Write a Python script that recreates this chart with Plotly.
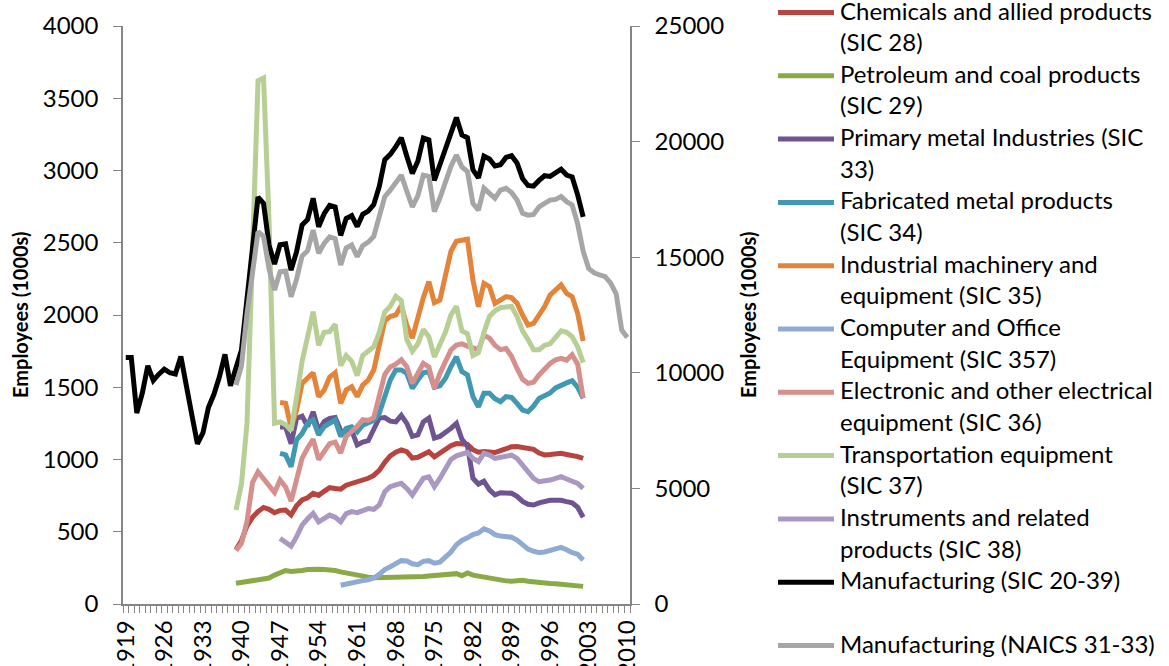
import plotly.graph_objects as go

# ---------------- data (thousands of employees) ----------------
years_sic = list(range(1919, 2003))
manuf_sic = [10659, 10658, 8257, 9120, 10300, 9671, 9939, 10156, 10001, 9947,
             10702, 9562, 8170, 6931, 7397, 8501, 9069, 9827, 10794, 9440,
             10278, 10985, 13192, 15280, 17602, 17328, 15524, 14703, 15545, 15582,
             14441, 15241, 16393, 16632, 17549, 16314, 16882, 17243, 17174, 15945,
             16675, 16796, 16326, 16853, 16995, 17274, 18062, 19214, 19447, 19781,
             20167, 19367, 18623, 19151, 20154, 20077, 18323, 18997, 19682, 20505,
             21040, 20285, 20170, 18780, 18432, 19372, 19248, 18947, 18999, 19314,
             19391, 19076, 18406, 18104, 18075, 18321, 18524, 18495, 18675, 18805,
             18552, 18469, 17698, 16747]

years_naics = list(range(1939, 2011))
manuf_naics = [9470, 10300, 12550, 14150, 16100, 15900, 14500, 13580, 14370, 14400,
               13290, 14050, 15050, 15280, 16175, 15170, 15600, 15880, 15800, 14660,
               15400, 15530, 15020, 15500, 15650, 15900, 16700, 17620, 17900, 18200,
               18550, 17850, 17180, 17650, 18550, 18500, 16970, 17550, 18200, 18930,
               19420, 18900, 18700, 17330, 17040, 17980, 17760, 17550, 17900, 17980,
               17800, 17470, 16900, 16820, 16850, 17180, 17330, 17470, 17500, 17620,
               17400, 17260, 16440, 15260, 14510, 14320, 14230, 14160, 13880, 13410,
               11850, 11530]

years_a = list(range(1939, 2003))
chem = [376, 440, 540, 600, 640, 668, 655, 632, 648, 650,
        616, 680, 720, 735, 766, 752, 780, 805, 800, 795,
        822, 833, 840, 860, 870, 890, 925, 980, 1025, 1050,
        1066, 1054, 1010, 1015, 1035, 1054, 1019, 1045, 1070, 1095,
        1110, 1110, 1105, 1068, 1050, 1055, 1052, 1048, 1062, 1078,
        1088, 1090, 1082, 1077, 1070, 1045, 1032, 1035, 1040, 1043,
        1035, 1030, 1020, 1008]
petro = [143, 150, 158, 165, 170, 172, 180, 200, 212, 232,
         225, 225, 232, 238, 242, 240, 238, 236, 232, 222,
         214, 205, 198, 192, 186, 182, 182, 184, 186, 184,
         182, 186, 188, 190, 190, 194, 196, 200, 204, 208,
         210, 196, 215, 200, 192, 186, 178, 168, 162, 160,
         158, 162, 164, 158, 152, 150, 146, 142, 140, 137,
         130, 127, 125, 122]
elec = [370, 420, 570, 840, 915, 870, 830, 772, 858, 810,
        712, 875, 1010, 1080, 1140, 1000, 1060, 1110, 1120, 1045,
        1160, 1190, 1230, 1275, 1270, 1290, 1430, 1590, 1640, 1660,
        1690, 1642, 1527, 1600, 1665, 1640, 1492, 1596, 1677, 1758,
        1792, 1800, 1785, 1770, 1760, 1860, 1840, 1790, 1760, 1768,
        1715, 1630, 1555, 1527, 1535, 1585, 1630, 1665, 1690, 1700,
        1688, 1725, 1660, 1425]
transp = [650, 830, 1250, 2450, 3620, 3640, 2650, 1250, 1260, 1240,
          1200, 1430, 1680, 1850, 2023, 1790, 1880, 1885, 1935, 1650,
          1720, 1680, 1580, 1720, 1750, 1780, 1880, 2020, 2060, 2130,
          2100, 1830, 1750, 1800, 1900, 1850, 1710, 1800, 1880, 2000,
          2060, 1890, 1870, 1720, 1740, 1880, 1990, 2030, 2050, 2055,
          2060, 1990, 1890, 1830, 1760, 1760, 1790, 1800, 1850, 1890,
          1880, 1850, 1780, 1670]

years_b = list(range(1947, 2003))
prim = [1225, 1225, 1110, 1285, 1300, 1230, 1330, 1200, 1262, 1285,
        1290, 1200, 1190, 1200, 1100, 1120, 1130, 1215, 1287, 1290,
        1265, 1260, 1305, 1250, 1160, 1170, 1260, 1287, 1148, 1160,
        1185, 1215, 1250, 1140, 1095, 870, 830, 850, 790, 755,
        770, 770, 766, 745, 710, 690, 685, 700, 712, 718,
        718, 718, 708, 700, 670, 600]
fab = [1042, 1032, 950, 1135, 1180, 1250, 1273, 1170, 1227, 1250,
       1273, 1160, 1215, 1227, 1192, 1238, 1250, 1270, 1319, 1435,
       1550, 1619, 1620, 1596, 1492, 1550, 1600, 1608, 1500, 1510,
       1561, 1642, 1711, 1608, 1585, 1435, 1365, 1458, 1458, 1420,
       1400, 1435, 1430, 1388, 1342, 1331, 1370, 1423, 1445, 1460,
       1495, 1515, 1530, 1545, 1500, 1423]
mach = [1395, 1390, 1220, 1342, 1527, 1561, 1600, 1435, 1480, 1570,
        1600, 1388, 1481, 1504, 1435, 1515, 1550, 1619, 1780, 1960,
        1990, 2000, 2065, 1930, 1840, 1990, 2120, 2231, 2085, 2104,
        2260, 2440, 2510, 2519, 2525, 2242, 2058, 2219, 2196, 2080,
        2104, 2127, 2120, 2081, 2000, 1931, 1942, 2000, 2058, 2138,
        2170, 2208, 2150, 2127, 2012, 1820]
instr = [454, 432, 400, 466, 546, 590, 627, 569, 590, 615,
         600, 569, 625, 639, 632, 650, 660, 655, 685, 777,
         812, 825, 835, 800, 754, 812, 870, 880, 812, 869,
         938, 1000, 1025, 1035, 1050, 1008, 985, 1043, 1031, 1008,
         1015, 1020, 1030, 1008, 962, 915, 870, 846, 850, 858,
         870, 881, 865, 850, 835, 800]

years_c = list(range(1958, 2003))
comp = [130, 140, 150, 155, 162, 168, 180, 205, 238, 258,
        275, 300, 298, 278, 272, 295, 300, 282, 290, 320,
        360, 410, 440, 458, 480, 492, 520, 505, 480, 470,
        466, 462, 443, 410, 380, 365, 356, 360, 372, 385,
        392, 375, 355, 345, 305]

tick_years = list(range(1919, 2011, 7))

# legend labels, as wrapped in the reference
legend_lines = [
    ["Chemicals and allied products", "(SIC 28)"],
    ["Petroleum and coal products", "(SIC 29)"],
    ["Primary metal Industries (SIC", "33)"],
    ["Fabricated metal products", "(SIC 34)"],
    ["Industrial machinery and", "equipment (SIC 35)"],
    ["Computer and Office", "Equipment (SIC 357)"],
    ["Electronic and other electrical", "equipment (SIC 36)"],
    ["Transportation equipment", "(SIC 37)"],
    ["Instruments and related", "products (SIC 38)"],
    ["Manufacturing (SIC 20-39)"],
    ["Manufacturing (NAICS 31-33)"],
]

# ---------------- figure ----------------
FONT = "Lato, 'Open Sans', sans-serif"
AXC = "#868686"
W, H = 1169, 666
L, R, T, B = 123, 539, 26, 62
PW, PH = W - L - R, H - T - B
LW = 5

series = [
    (years_a, chem, "#B8443F", "y"),
    (years_a, petro, "#8AAA48", "y"),
    (years_b, prim, "#6E5592", "y"),
    (years_b, fab, "#4098B2", "y"),
    (years_b, mach, "#E3843A", "y"),
    (years_c, comp, "#8FAAD3", "y"),
    (years_a, elec, "#D58F8D", "y"),
    (years_a, transp, "#B7CF95", "y"),
    (years_b, instr, "#A898C2", "y"),
    (years_sic, manuf_sic, "#000000", "y2"),
    (years_naics, manuf_naics, "#A6A6A6", "y2"),
]

fig = go.Figure()
for lines, (xs, ys, color, yax) in zip(legend_lines, series):
    fig.add_trace(go.Scatter(
        x=xs, y=ys, name=" ".join(lines), mode="lines", yaxis=yax,
        line=dict(color=color, width=LW), hoverinfo="skip",
        showlegend=False,
    ))


def px_x(px):
    return (px - L) / PW


def px_y(py):
    return (H - B - py) / PH


annotations = [
    dict(text="<b>Employees (1000s)</b>", xref="paper", yref="paper",
         x=px_x(20), y=0.5, textangle=-90, showarrow=False,
         font=dict(family=FONT, size=20, color="black"),
         xanchor="center", yanchor="middle"),
    dict(text="<b>Employees (1000s)</b>", xref="paper", yref="paper",
         x=px_x(748), y=0.5, textangle=-90, showarrow=False,
         font=dict(family=FONT, size=20, color="black"),
         xanchor="center", yanchor="middle"),
]
shapes = []
ITEM_GAP, LINE_GAP, FIRST = 63.3, 31.7, 12.5
for i, (lines, (_, _, color, _)) in enumerate(zip(legend_lines, series)):
    y0 = FIRST + ITEM_GAP * i
    shapes.append(dict(type="line", xref="paper", yref="paper",
                       x0=px_x(778), x1=px_x(834), y0=px_y(y0), y1=px_y(y0),
                       line=dict(color=color, width=LW)))
    for j, txt in enumerate(lines):
        annotations.append(dict(
            text=txt, xref="paper", yref="paper", x=px_x(838),
            y=px_y(y0 - 2.5 + LINE_GAP * j), xanchor="left", yanchor="middle",
            showarrow=False, font=dict(family=FONT, size=24, color="black")))

axis_common = dict(showgrid=False, zeroline=False, showline=True,
                   linecolor=AXC, linewidth=1.5, automargin=False,
                   tickfont=dict(family=FONT, size=24, color="black"))

fig.update_layout(
    width=W, height=H,
    margin=dict(l=L, r=R, t=T, b=B, pad=0, autoexpand=False),
    plot_bgcolor="white", paper_bgcolor="white",
    font=dict(family=FONT, size=24, color="black"),
    showlegend=False,
    xaxis=dict(range=[1918.5, 2010.5], tickmode="array", tickvals=tick_years,
               ticktext=[str(y) for y in tick_years], tickangle=-90,
               ticks="outside", ticklen=5, tickcolor="rgba(0,0,0,0)",
               minor=dict(ticks="outside", tickmode="linear", tick0=1918.5,
                          dtick=1, ticklen=7, tickwidth=1, tickcolor=AXC,
                          showgrid=False),
               **axis_common),
    yaxis=dict(range=[0, 4000], tickmode="linear", tick0=0, dtick=500,
               tickformat="d", ticks="outside", ticklen=8, tickcolor=AXC,
               ticklabelstandoff=10, **axis_common),
    yaxis2=dict(range=[0, 25000], tickmode="linear", tick0=0, dtick=5000,
                tickformat="d", ticks="outside", ticklen=8, tickcolor=AXC,
                ticklabelstandoff=10, overlaying="y", side="right", anchor="x",
                **axis_common),
    annotations=annotations,
    shapes=shapes,
)

fig.write_html("out.html", config={"displayModeBar": False},
               post_script="document.body.style.margin='0';")
